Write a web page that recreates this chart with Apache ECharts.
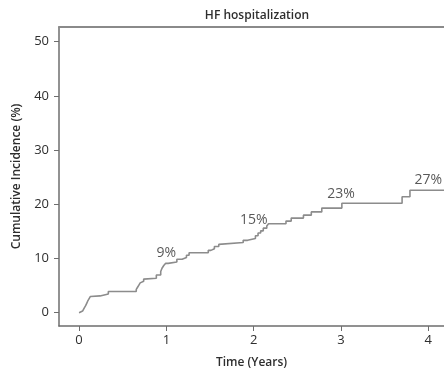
<!DOCTYPE html>
<html>
<head>
<meta charset="utf-8">
<script src="https://cdn.jsdelivr.net/npm/echarts@6/dist/echarts.min.js"></script>
<style>
  html, body { margin: 0; padding: 0; background: #fff; }
  #chart { width: 444px; height: 371px; }
</style>
</head>
<body>
<div id="chart"></div>
<script>
// Kaplan-Meier style cumulative incidence of HF hospitalization (step points: time in years, incidence %)
var stepTimes = [0, 0.02, 0.04, 0.06, 0.075, 0.09, 0.10, 0.115, 0.13, 0.145, 0.24, 0.335,
  0.655, 0.67, 0.685, 0.70, 0.72, 0.74, 0.75, 0.885, 0.935, 0.95, 0.97, 0.99, 1.02,
  1.12, 1.18, 1.23, 1.26, 1.48, 1.51, 1.55, 1.60, 1.62, 1.88, 1.93, 2.02, 2.05, 2.08,
  2.11, 2.15, 2.17, 2.37, 2.43, 2.57, 2.66, 2.78, 3.01, 3.70, 3.79, 4.18];
var stepValues = [0, 0.3, 0.6, 0.9, 1.3, 1.8, 2.2, 2.6, 3.0, 3.1, 3.45, 3.9,
  4.3, 4.7, 5.1, 5.5, 5.8, 6.2, 6.35, 6.95, 7.6, 8.2, 8.7, 9.1, 9.35,
  9.85, 10.2, 10.6, 11.05, 11.5, 11.8, 12.2, 12.6, 12.95, 13.35, 13.7, 14.2, 14.7, 15.1,
  15.6, 16.0, 16.4, 16.9, 17.45, 18.0, 18.6, 19.3, 20.2, 21.4, 22.6, 22.6];

// Yearly rate annotations
var labelYears = [1, 2, 3, 4];
var labelPercents = [9, 15, 23, 27];
var labelHeights = [11.0, 17.1, 21.9, 24.4];

var xTicks = [0, 1, 2, 3, 4];
var yTicks = [0, 10, 20, 30, 40, 50];

var curve = stepTimes.map(function (t, i) { return [t, stepValues[i]]; });
var notes = labelYears.map(function (t, i) { return [t, labelHeights[i], labelPercents[i]]; });

var FONT = '"Open Sans", sans-serif';
var TEXT = '#2e2e2e';
var AXIS = '#6e6e6e';

var chart = echarts.init(document.getElementById('chart'), null, { renderer: 'canvas' });
chart.setOption({
  animation: false,
  backgroundColor: '#ffffff',
  title: {
    text: 'HF hospitalization',
    left: 252,
    top: 5,
    textAlign: 'center',
    textStyle: { fontFamily: FONT, fontSize: 12, fontWeight: 600, color: TEXT }
  },
  grid: { left: 59, right: 0, top: 27, bottom: 45, containLabel: false, outerBoundsMode: 'none' },
  xAxis: [{
    type: 'value',
    min: -0.23,
    max: 4.18,
    name: 'Time (Years)',
    nameLocation: 'middle',
    nameGap: 31,
    nameTextStyle: { fontFamily: FONT, fontSize: 12, fontWeight: 600, color: TEXT },
    axisLine: { show: true, onZero: false, lineStyle: { color: AXIS, width: 1.5 } },
    axisTick: { show: true, length: 5, customValues: xTicks, lineStyle: { color: AXIS, width: 1 } },
    axisLabel: { customValues: xTicks, margin: 8, fontFamily: FONT, fontSize: 13, color: TEXT },
    splitLine: { show: false }
  }, {
    type: 'value',
    position: 'top',
    min: -0.23,
    max: 4.18,
    axisLine: { show: true, onZero: false, lineStyle: { color: '#8a8a8a', width: 2 } },
    axisTick: { show: false },
    axisLabel: { show: false },
    splitLine: { show: false }
  }],
  yAxis: {
    type: 'value',
    min: -2.45,
    max: 52.7,
    name: 'Cumulative Incidence (%)',
    nameLocation: 'middle',
    nameGap: 36,
    nameTextStyle: { fontFamily: FONT, fontSize: 12, fontWeight: 600, color: TEXT },
    axisLine: { show: true, onZero: false, lineStyle: { color: AXIS, width: 1.5 } },
    axisTick: { show: true, length: 5, customValues: yTicks, lineStyle: { color: AXIS, width: 1 } },
    axisLabel: { customValues: yTicks, margin: 10, fontFamily: FONT, fontSize: 13, color: TEXT },
    splitLine: { show: false }
  },
  series: [{
    type: 'line',
    step: 'end',
    data: curve,
    showSymbol: false,
    lineStyle: { color: '#8c8c8c', width: 1.6 },
    z: 3
  }, {
    type: 'scatter',
    data: notes,
    symbolSize: 0,
    itemStyle: { color: TEXT },
    label: {
      show: true,
      position: 'inside',
      formatter: function (p) { return p.value[2] + '%'; },
      fontFamily: FONT,
      fontSize: 14,
      color: TEXT
    },
    z: 4
  }]
});
</script>
</body>
</html>
